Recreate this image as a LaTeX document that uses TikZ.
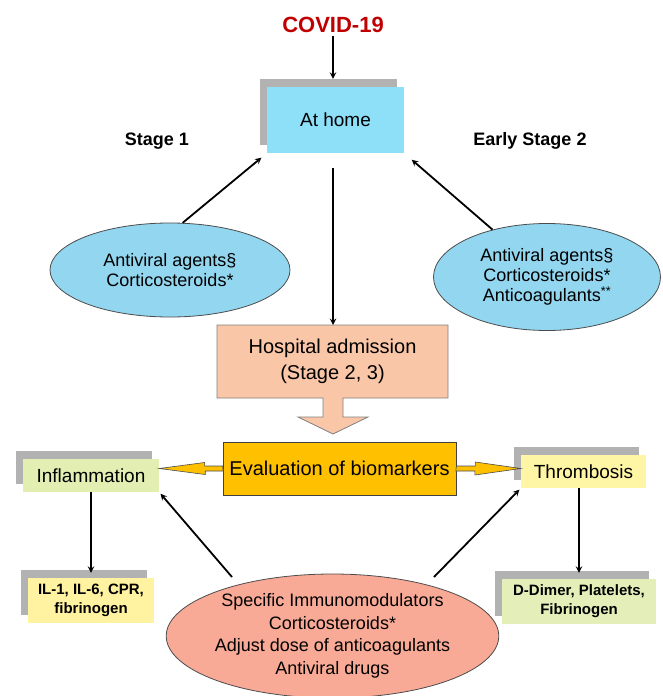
\documentclass[tikz,border=0pt]{standalone}
\usepackage{fontspec}
\setmainfont{Liberation Sans}
\usetikzlibrary{shapes.geometric,arrows,calc,shadows}
\definecolor{covidred}{RGB}{192,0,0}
\definecolor{homeblue}{RGB}{142,223,248}
\definecolor{ellblue}{RGB}{146,214,240}
\definecolor{hospfill}{RGB}{250,198,168}
\definecolor{evalgold}{RGB}{255,192,0}
\definecolor{inflgreen}{RGB}{226,238,178}
\definecolor{ilyellow}{RGB}{255,242,160}
\definecolor{thrombyellow}{RGB}{255,246,165}
\definecolor{ddgreen}{RGB}{228,238,185}
\definecolor{treatsalmon}{RGB}{249,170,150}
\definecolor{shadowgray}{RGB}{178,178,178}
\tikzstyle{arrow} = [line width=1.8pt,->,>=stealth]
\tikzstyle{shadowbox} = [rectangle, inner sep=0pt, align=center,
drop shadow={shadow xshift=-7pt,shadow yshift=8pt,fill=shadowgray,opacity=1}]
\tikzstyle{drug} = [ellipse, draw=black!70, line width=0.8pt, align=center,
inner sep=0pt, font=\fontsize{18}{20}\selectfont]
\tikzstyle{goldarrow} = [fill=evalgold, draw=black!70, line width=0.6pt]
\tikzstyle{stagelabel} = [font=\bfseries\fontsize{18}{20}\selectfont]

\begin{document}
\begin{tikzpicture}[x=1pt,y=-1pt]
            \useasboundingbox (0,0) rectangle (663,696);
            % top part
            \node[text=covidred, font=\bfseries\fontsize{22}{24}\selectfont] (covid) at (333,25) {COVID-19};
            \node[shadowbox, fill=homeblue, minimum width=137pt, minimum height=66pt,
            font=\fontsize{19}{22}\selectfont] (home) at (335.5,120) {At home};
            \node[stagelabel] (stage1) at (157,141) {Stage 1};
            \node[stagelabel] (stage2) at (530,141) {Early Stage 2};
            \node[drug, fill=ellblue, minimum width=240pt, minimum height=94pt] (ell1) at (170,270)
            {Antiviral agents§\\Corticosteroids*};
            \node[drug, fill=ellblue, minimum width=227pt, minimum height=107pt] (ell2) at (547,277)
            {Antiviral agents§\\Corticosteroids*\\Anticoagulants\textsuperscript{**}};
            % hospital box with block arrow
            \filldraw[fill=hospfill, draw=black!50, line width=0.8pt] (217,325) -- (448,325) -- (448,398)
            -- (343,398) -- (343,417) -- (368,417) -- (333,434) -- (298,417) -- (323,417) -- (323,398)
            -- (217,398) -- cycle;
            \node[align=center, font=\fontsize{20}{26}\selectfont] (hosp) at (332.5,361.5)
            {Hospital admission\\(Stage 2, 3)};
            \coordinate (hosptop) at (333,325);
            % biomarkers
            \node[draw=black!75, fill=evalgold, line width=0.8pt, minimum width=233pt, minimum height=53pt,
            font=\fontsize{20}{24}\selectfont] (eval) at (339.5,468.5) {Evaluation of biomarkers};
            \node[shadowbox, fill=inflgreen, minimum width=136pt, minimum height=33pt,
            font=\fontsize{19}{22}\selectfont] (infl) at (91,475.5) {Inflammation};
            \node[shadowbox, fill=thrombyellow, minimum width=125pt, minimum height=33pt,
            font=\fontsize{19}{22}\selectfont] (thromb) at (583.5,471.5) {Thrombosis};
            \node[shadowbox, fill=ilyellow, minimum width=126pt, minimum height=45pt,
            font=\bfseries\fontsize{15}{19}\selectfont] (il) at (91,600.5) {IL-1, IL-6, CPR,\\fibrinogen};
            \node[shadowbox, fill=ddgreen, minimum width=154pt, minimum height=45pt,
            font=\bfseries\fontsize{15}{19}\selectfont] (ddimer) at (579,601.5) {D-Dimer, Platelets,\\Fibrinogen};
            \node[drug, fill=treatsalmon, minimum width=291pt, minimum height=124pt,
            font=\fontsize{18}{22.5}\selectfont] (treat) at (332.5,636)
            {Specific Immunomodulators\\Corticosteroids*\\Adjust dose of anticoagulants\\Antiviral drugs};
            \filldraw[goldarrow] ($(eval.west)+(0,-2.5)$) -- ++(-18,0) -- ++(0,-3.5)
            -- (infl.east |- eval.west) -- ++(46,6) -- ++(0,-3.5) -- ++(18,0) -- cycle;
            \filldraw[goldarrow] ($(eval.east)+(0,-2.5)$) -- ++(19,0) -- ++(0,-4)
            -- (thromb.west |- eval.east) -- ++(-46,6.5) -- ++(0,-4) -- ++(-19,0) -- cycle;
            % connectors
            \draw[arrow, shorten >=8pt] (covid.south) -- (hosptop |- home.north);
            \draw[arrow, shorten <=15pt] (hosptop |- home.south) -- (hosptop);
            \draw[arrow, shorten >=7pt] (ell1.75) -- (home.south west);
            \draw[arrow, shorten >=10pt] (ell2.139) -- (home.south east);
            \draw[arrow, shorten >=5pt] (infl.south) -- (il.north);
            \draw[arrow, shorten >=6pt] (ddimer.north |- thromb.south) -- (ddimer.north);
            \coordinate (tleft) at (232,577);
            \coordinate (tright) at (434,577);
            \draw[arrow, shorten >=2pt] (tleft) -- (infl.south east);
            \draw[arrow, shorten >=2pt] (tright) -- (thromb.south west);
        \end{tikzpicture}
\end{document}
